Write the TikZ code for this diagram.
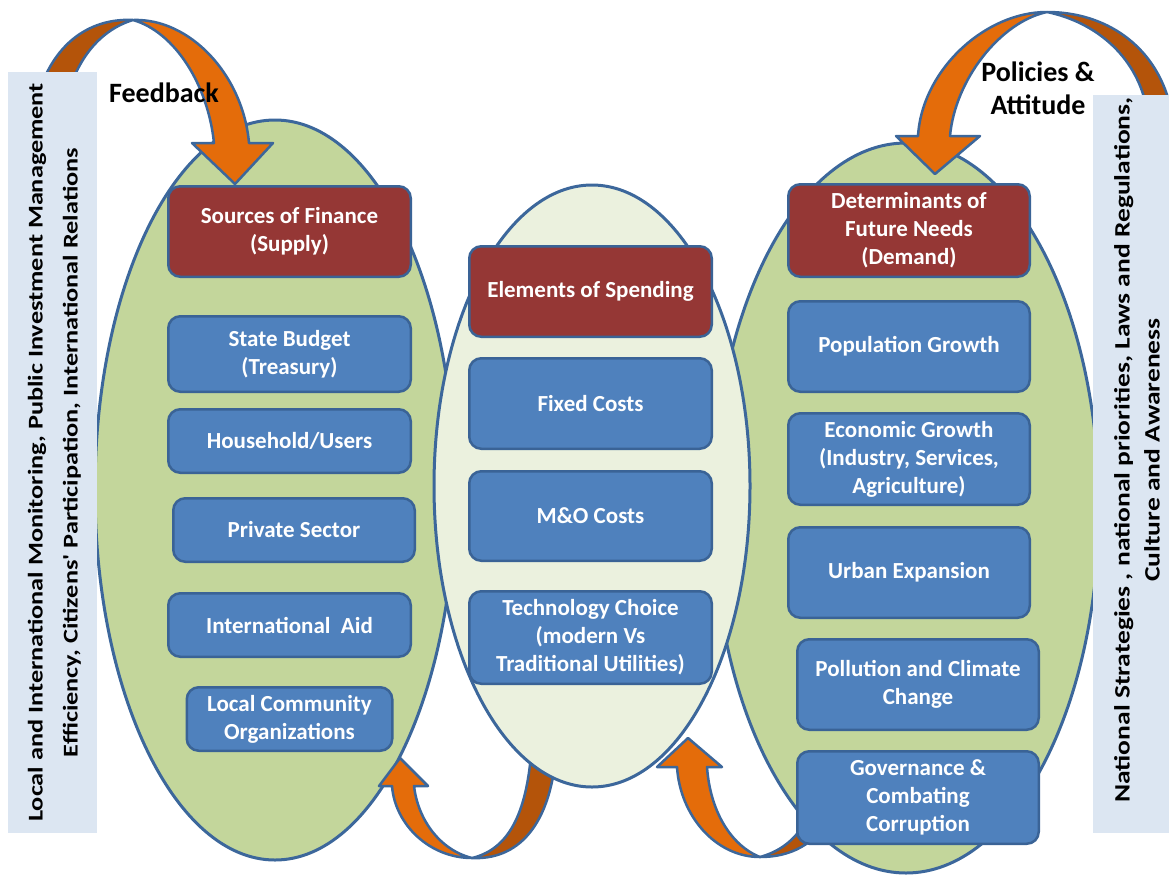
\documentclass[tikz,border=0pt]{standalone}
\usepackage{fontspec}
\setmainfont{Carlito}
\newfontfamily\sidefont[FakeStretch=1.25]{Carlito}
\usetikzlibrary{positioning}
\definecolor{edgeblue}{HTML}{3C679B}
\definecolor{ringgreen}{HTML}{C3D69B}
\definecolor{ringpale}{HTML}{EBF1DE}
\definecolor{tileblue}{HTML}{4F81BD}
\definecolor{tileborder}{HTML}{3A6396}
\definecolor{headred}{HTML}{953735}
\definecolor{flowfront}{HTML}{E46C0A}
\definecolor{flowback}{HTML}{B4540A}
\definecolor{sidepale}{HTML}{DCE6F2}
\newcommand{\tilefont}{\fontsize{23}{28}\selectfont\bfseries}

\begin{document}
\begin{tikzpicture}[x=1pt,y=-1pt,
  ring/.style={draw=edgeblue,line width=3pt},
  tile/.style={draw=tileborder,line width=2.5pt,rounded corners=12pt,text=white,
               font=\tilefont,align=center,inner sep=2pt,
               minimum width=242.5pt,minimum height=63.5pt},
  item/.style={tile,fill=tileblue},
  head/.style={tile,fill=headred,minimum height=90.5pt},
  arrfront/.style={fill=flowfront,draw=edgeblue,line width=2.5pt,line join=round},
  arrback/.style={fill=flowback,draw=edgeblue,line width=2.5pt,line join=round},
  sidebar/.style={fill=sidepale,inner sep=0pt},
  sidetext/.style={rotate=90,align=center,inner sep=0pt},
  note/.style={font=\fontsize{28}{33}\selectfont\bfseries,align=center,inner sep=0pt}
]
\useasboundingbox (0,0) rectangle (1169,884);

% the two outer ovals
\fill[ringgreen] (275,490) ellipse [x radius=180,y radius=370];
\draw[ring] (275,490) ellipse [x radius=180,y radius=370];
\fill[ringgreen] (906,508) ellipse [x radius=193,y radius=365];
\draw[ring] (906,508) ellipse [x radius=193,y radius=365];

% lower loops (spending -> finance, needs -> spending)
\draw[arrback] (472,858) .. controls (515,860) and (553,830) .. (557,740)
  -- (532,740) .. controls (528,820) and (505,850) .. (472,858) -- cycle;
\draw[arrfront] (472,858) .. controls (430,858) and (395,825) .. (392,786)
  -- (379,786) -- (400,758) -- (428,786) -- (414,786)
  .. controls (418,820) and (440,850) .. (472,858) -- cycle;
\draw[arrback] (760,857) .. controls (790,857) and (815,845) .. (832,815)
  -- (812,810) .. controls (800,835) and (785,850) .. (760,857) -- cycle;
\draw[arrfront] (760,857) .. controls (715,857) and (680,815) .. (677,767)
  -- (657,767) -- (688,738) -- (722,767) -- (707,767)
  .. controls (710,810) and (730,845) .. (760,857) -- cycle;

% middle oval
\fill[ringpale] (592,486) ellipse [x radius=158,y radius=301];
\draw[ring] (592,486) ellipse [x radius=158,y radius=301];

% upper loops (feedback, policies)
\draw[arrback] (133,20) .. controls (95,18) and (50,38) .. (34,110)
  -- (64,110) .. controls (74,60) and (100,30) .. (133,20) -- cycle;
\draw[arrfront] (133,20) .. controls (190,18) and (243,75) .. (249,143)
  -- (273,143) -- (235,184) -- (192,143) -- (214,143)
  .. controls (208,85) and (175,32) .. (133,20) -- cycle;
\draw[arrback] (1047,12) .. controls (1105,12) and (1155,45) .. (1170,105)
  -- (1146,105) .. controls (1135,55) and (1095,22) .. (1047,12) -- cycle;
\draw[arrfront] (1047,12) .. controls (985,12) and (922,70) .. (918,136)
  -- (896,136) -- (935,174) -- (980,136) -- (950,136)
  .. controls (955,80) and (1000,22) .. (1047,12) -- cycle;

% supply
\node[head] (finance) at (289.5,231.5) {Sources of Finance\\(Supply)};
\node[item,minimum height=75.5pt,below=37pt of finance] (budget) {State Budget\\(Treasury)};
\node[item,below=15pt of budget] (users) {Household/Users};
\node[item,minimum width=241.5pt,below=23pt of users,xshift=4.5pt] (private) {Private Sector};
\node[item,below=29pt of private,xshift=-4.5pt] (aid) {International\ \ Aid};
\node[item,minimum width=205.5pt,below=28pt of aid] (community) {Local Community\\Organizations};

% spending
\node[head] (spending) at (590.5,291.5) {Elements of Spending};
\node[item,minimum height=90.5pt,below=19pt of spending] (fixed) {Fixed Costs};
\node[item,minimum height=89.5pt,below=20pt of fixed] (mando) {M\&O Costs};
\node[item,minimum height=92.5pt,below=28pt of mando] (tech) {Technology Choice\\(modern Vs\\Traditional Utilities)};

% demand
\node[head,minimum width=241.5pt,minimum height=92.5pt] (needs) at (909,230.5) {Determinants of\\Future Needs\\(Demand)};
\node[item,minimum width=241.5pt,minimum height=90.5pt,below=22pt of needs] (population) {Population Growth};
\node[item,minimum width=241.5pt,minimum height=91.5pt,below=19pt of population] (economy) {Economic Growth\\(Industry, Services,\\Agriculture)};
\node[item,minimum width=241.5pt,minimum height=90.5pt,below=20pt of economy] (urban) {Urban Expansion};
\node[item,minimum width=241.5pt,minimum height=90.5pt,below=19pt of urban,xshift=9pt] (pollution) {Pollution and Climate\\Change};
\node[item,minimum width=241.5pt,minimum height=92.5pt,below=19pt of pollution] (governance) {Governance \&\\Combating\\Corruption};

% side panels
\node[sidebar,minimum width=89pt,minimum height=761pt] (monitoring) at (52.5,452.5) {};
\node[sidetext,font=\sidefont\fontsize{21}{35}\selectfont\bfseries]
  at ([xshift=2pt]monitoring.center)
  {Local and International Monitoring, Public Investment Management\\
   Efficiency, Citizens' Participation, International Relations};
\node[sidebar,minimum width=82pt,minimum height=738pt] (context) at (1134,464) {};
\node[sidetext,font=\sidefont\fontsize{22}{30}\selectfont\bfseries]
  at ([xshift=3pt,yshift=14pt]context.center)
  {National Strategies , national priorities, Laws and Regulations,\\
   Culture and Awareness};

\node[note] (feedback) at (164,93) {Feedback};
\node[note] (policies) at (1038,88) {Policies \&\\Attitude};
\end{tikzpicture}
\end{document}
